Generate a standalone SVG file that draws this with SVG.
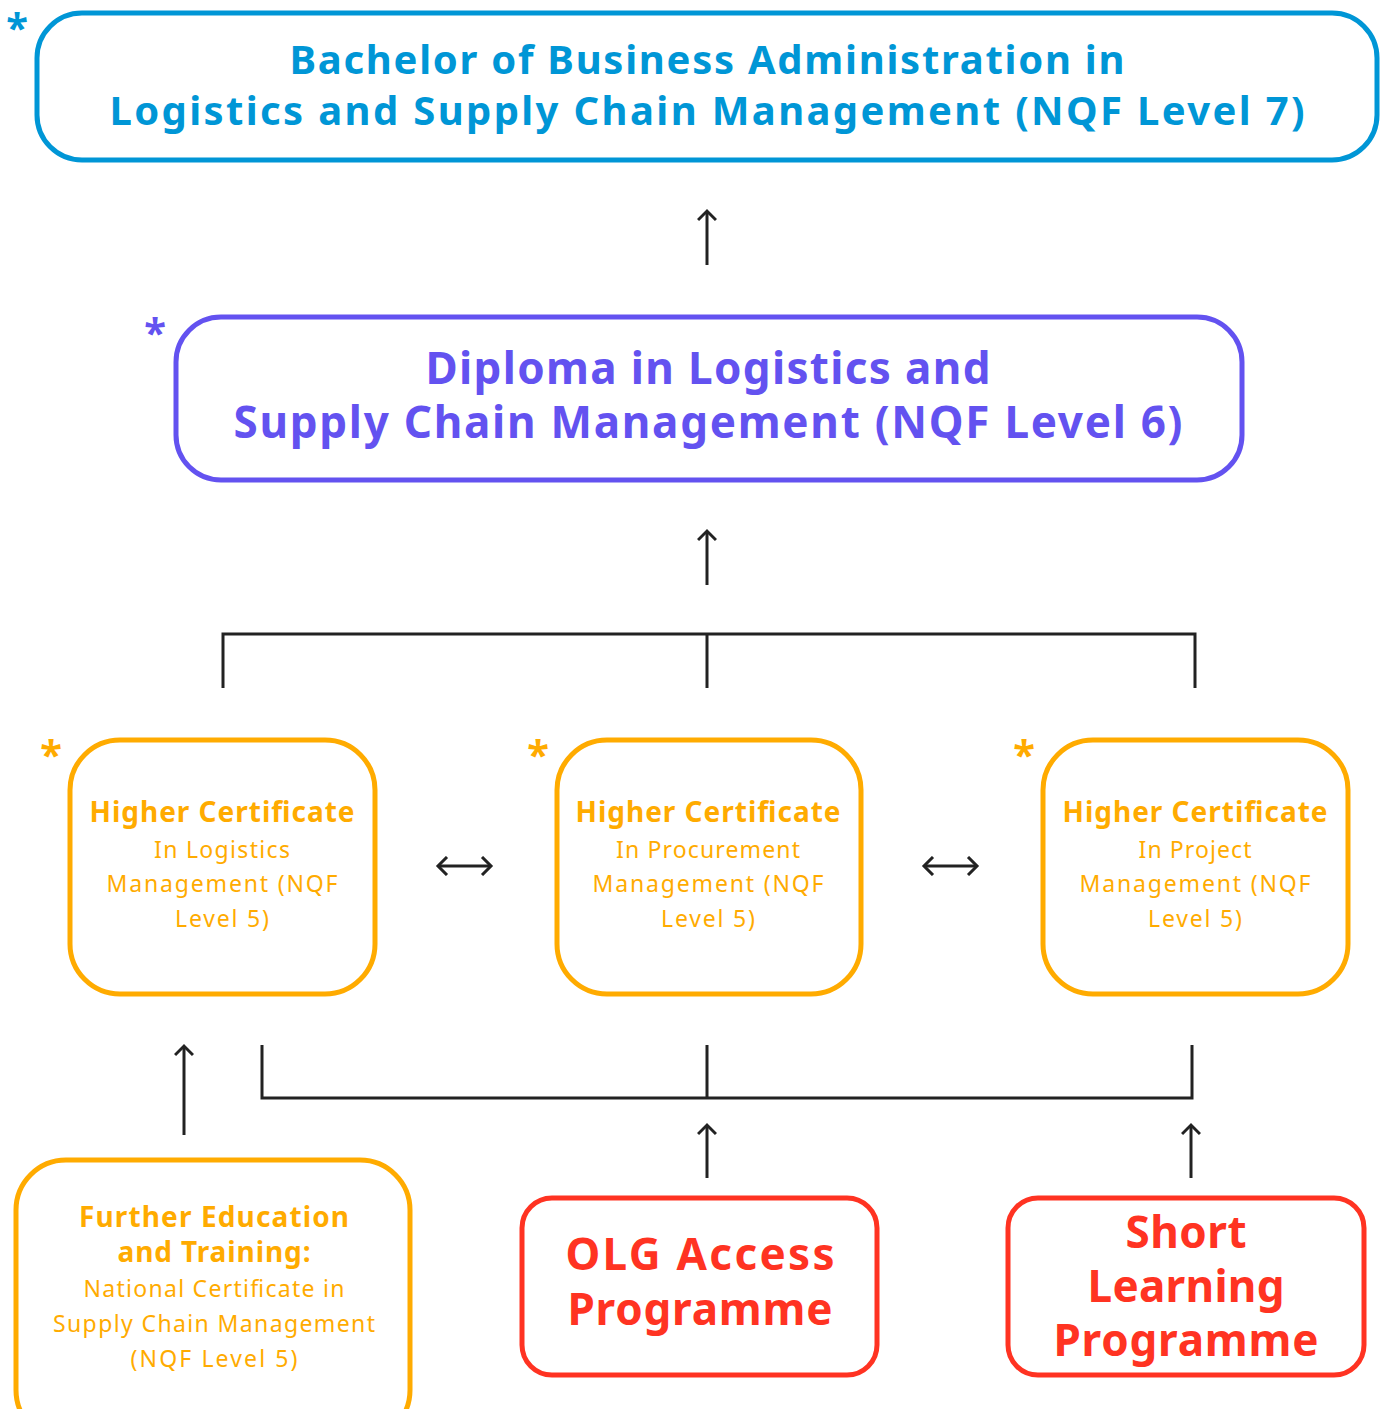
<svg xmlns="http://www.w3.org/2000/svg" width="1383" height="1409" viewBox="0 0 1383 1409">
<style>
text{font-family:"Noto Sans","Liberation Sans",sans-serif;text-anchor:middle}
.b{font-weight:700}
.blue{fill:#0096d6}.purple{fill:#6352f0}.orange{fill:#ffab00}.red{fill:#ff3322}
.box{fill:#fff;stroke-width:5}
.ln{stroke:#222;stroke-width:3;fill:none}
.ast{font-weight:700;font-size:40px}
</style>
<defs>
<marker id="ah" viewBox="0 0 20 20" refX="11" refY="10" markerWidth="20" markerHeight="20" markerUnits="userSpaceOnUse" orient="auto-start-reverse">
<path d="M2,1 L11,10 L2,19" fill="none" stroke="#222" stroke-width="3"/>
</marker>
</defs>
<g id="connectors">
<line class="ln" x1="707" y1="265" x2="707" y2="211" marker-end="url(#ah)"/>
<line class="ln" x1="707" y1="585" x2="707" y2="531" marker-end="url(#ah)"/>
<path class="ln" d="M223,688 V634 H1195 V688 M707,634 V688"/>
<line class="ln" x1="438" y1="866" x2="491" y2="866" marker-start="url(#ah)" marker-end="url(#ah)"/>
<line class="ln" x1="924" y1="866" x2="977" y2="866" marker-start="url(#ah)" marker-end="url(#ah)"/>
<path class="ln" d="M262,1045 V1098 H1192 V1045 M707,1045 V1098"/>
<line class="ln" x1="184" y1="1135" x2="184" y2="1046" marker-end="url(#ah)"/>
<line class="ln" x1="707" y1="1178" x2="707" y2="1125" marker-end="url(#ah)"/>
<line class="ln" x1="1191" y1="1178" x2="1191" y2="1125" marker-end="url(#ah)"/>
</g>
<g id="bba">
<text class="blue ast" x="17" y="42">*</text>
<rect class="box" x="37" y="13" width="1340" height="147" rx="45" stroke="#0096d6"/>
<text class="blue b" font-size="40" x="707" y="74" textLength="835">Bachelor of Business Administration in</text>
<text class="blue b" font-size="40" x="707" y="125" textLength="1195">Logistics and Supply Chain Management (NQF Level 7)</text>
</g>
<g id="diploma">
<text class="purple ast" x="155" y="347">*</text>
<rect class="box" x="176" y="317" width="1066" height="163" rx="45" stroke="#6352f0"/>
<text class="purple b" font-size="44" x="708" y="384" textLength="565">Diploma in Logistics and</text>
<text class="purple b" font-size="44" x="708" y="438" textLength="949">Supply Chain Management (NQF Level 6)</text>
</g>
<g id="hc-logistics">
<text class="orange ast" x="51" y="769">*</text>
<rect class="box" x="70" y="740" width="305" height="254" rx="50" stroke="#ffab00"/>
<text class="orange b" font-size="28" x="222" y="822" textLength="265">Higher Certificate</text>
<text class="orange" font-size="23" x="222" y="858" textLength="136">In Logistics</text>
<text class="orange" font-size="23" x="222" y="892" textLength="231">Management (NQF</text>
<text class="orange" font-size="23" x="222" y="927" textLength="94">Level 5)</text>
</g>
<g id="hc-procurement">
<text class="orange ast" x="538" y="769">*</text>
<rect class="box" x="557" y="740" width="304" height="254" rx="50" stroke="#ffab00"/>
<text class="orange b" font-size="28" x="708" y="822" textLength="265">Higher Certificate</text>
<text class="orange" font-size="23" x="708" y="858" textLength="184">In Procurement</text>
<text class="orange" font-size="23" x="708" y="892" textLength="231">Management (NQF</text>
<text class="orange" font-size="23" x="708" y="927" textLength="94">Level 5)</text>
</g>
<g id="hc-project">
<text class="orange ast" x="1024" y="769">*</text>
<rect class="box" x="1043" y="740" width="305" height="254" rx="50" stroke="#ffab00"/>
<text class="orange b" font-size="28" x="1195" y="822" textLength="265">Higher Certificate</text>
<text class="orange" font-size="23" x="1195" y="858" textLength="113">In Project</text>
<text class="orange" font-size="23" x="1195" y="892" textLength="231">Management (NQF</text>
<text class="orange" font-size="23" x="1195" y="927" textLength="94">Level 5)</text>
</g>
<g id="fet">
<rect class="box" x="16" y="1160" width="394" height="280" rx="50" stroke="#ffab00"/>
<text class="orange b" font-size="28" x="214" y="1227" textLength="270">Further Education</text>
<text class="orange b" font-size="28" x="214" y="1262" textLength="193">and Training:</text>
<text class="orange" font-size="23" x="214" y="1297" textLength="261">National Certificate in</text>
<text class="orange" font-size="23" x="214" y="1332" textLength="322">Supply Chain Management</text>
<text class="orange" font-size="23" x="214" y="1367" textLength="167">(NQF Level 5)</text>
</g>
<g id="olg">
<rect class="box" x="522" y="1198" width="355" height="177" rx="30" stroke="#ff3322"/>
<text class="red b" font-size="44" x="700" y="1270" textLength="269">OLG Access</text>
<text class="red b" font-size="44" x="700" y="1325" textLength="265">Programme</text>
</g>
<g id="slp">
<rect class="box" x="1008" y="1198" width="356" height="177" rx="30" stroke="#ff3322"/>
<text class="red b" font-size="44" x="1186" y="1248" textLength="121">Short</text>
<text class="red b" font-size="44" x="1186" y="1302" textLength="197">Learning</text>
<text class="red b" font-size="44" x="1186" y="1356" textLength="265">Programme</text>
</g>
</svg>
